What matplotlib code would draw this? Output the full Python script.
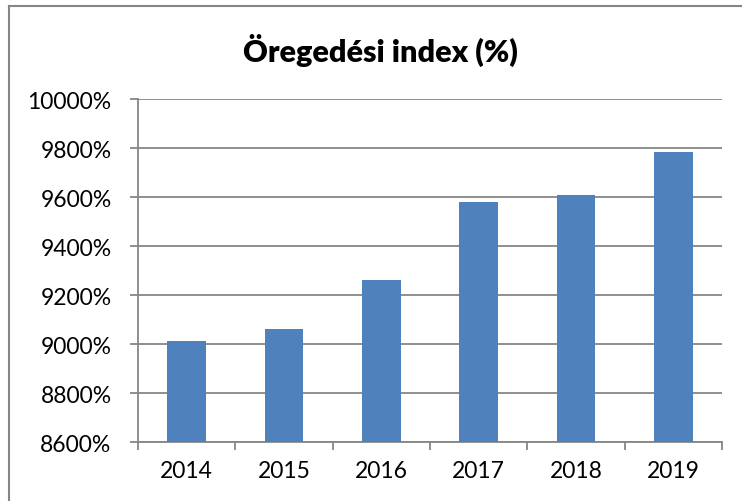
import matplotlib.pyplot as plt
from matplotlib.lines import Line2D
from matplotlib.ticker import FuncFormatter

years = ["2014", "2015", "2016", "2017", "2018", "2019"]
index_pct = [9012, 9061, 9261, 9580, 9608, 9784]
y_ticks = [8600, 8800, 9000, 9200, 9400, 9600, 9800, 10000]

plt.rcParams['font.family'] = ['Lato', 'DejaVu Sans']

W, H = 742, 502
fig = plt.figure(figsize=(W / 100, H / 100), dpi=100)
ax = fig.add_axes([138 / W, 1 - 443 / H, (722 - 138) / W, (443 - 100) / H])

grey = '#868686'
x = range(len(years))
ax.bar(x, index_pct, width=0.4, color='#4F81BD', zorder=3)

ax.set_xlim(-0.5, len(years) - 0.5)
ax.set_ylim(y_ticks[0], y_ticks[-1])
ax.set_yticks(y_ticks)
ax.yaxis.set_major_formatter(FuncFormatter(lambda v, p: f"{v:.0f}%"))
ax.set_xticks(list(x))
ax.set_xticklabels(years)
ax.set_xticks([i - 0.5 for i in range(len(years) + 1)], minor=True)

ax.grid(axis='y', color=grey, linewidth=1.3, zorder=0)
for side in ['top', 'right']:
    ax.spines[side].set_visible(False)
for side in ['left', 'bottom']:
    ax.spines[side].set_color(grey)
    ax.spines[side].set_linewidth(1.3)

ax.tick_params(axis='y', length=6, width=1.3, color=grey, pad=13, labelsize=16.5)
ax.tick_params(axis='x', which='major', length=0, pad=13, labelsize=16.5)
ax.tick_params(axis='x', which='minor', length=6, width=1.3, color=grey)

fig.text(380 / W, 1 - 50 / H, "Öregedési index (%)", ha='center', va='center',
         fontsize=22, fontweight='heavy')

# chart frame (cropped at right and bottom)
fig.add_artist(Line2D([9 / W, 9 / W], [0, 1 - 7 / H], color=grey, linewidth=1.5,
                      transform=fig.transFigure))
fig.add_artist(Line2D([9 / W, 1], [1 - 7 / H, 1 - 7 / H], color=grey, linewidth=1.5,
                      transform=fig.transFigure))

fig.savefig('out.png', dpi=100)
